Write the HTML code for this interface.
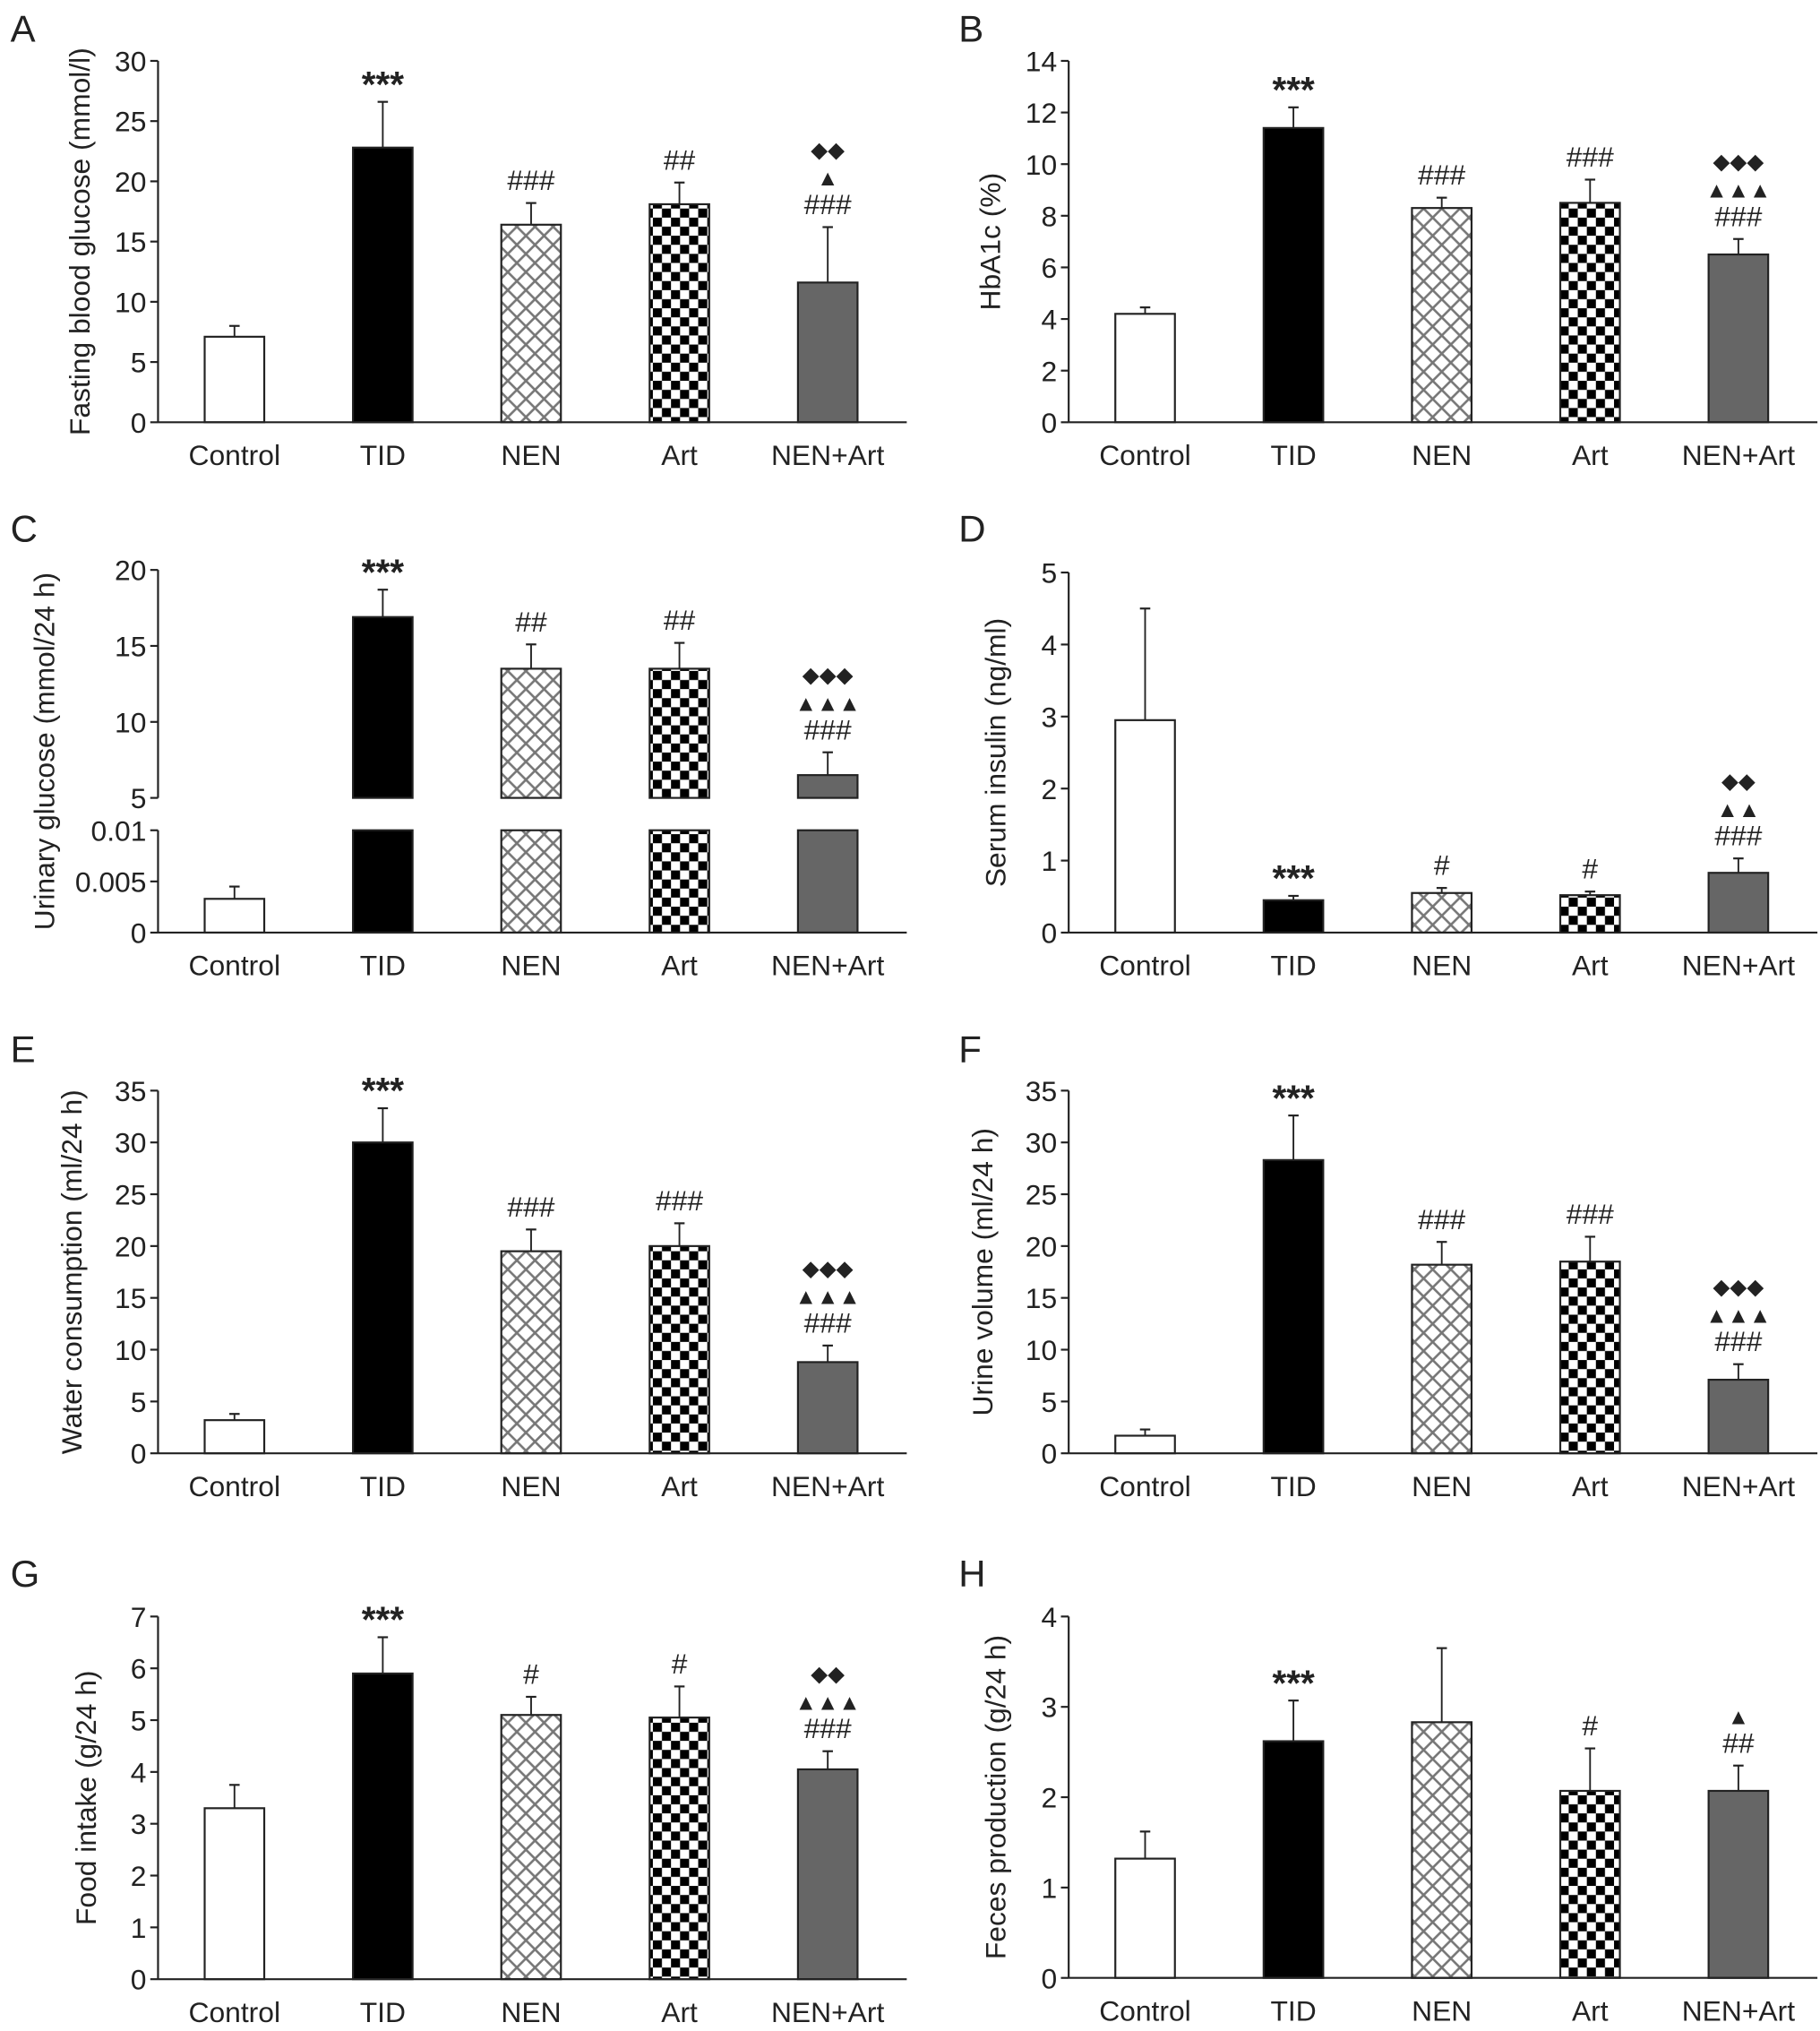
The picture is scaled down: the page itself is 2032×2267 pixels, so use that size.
<!DOCTYPE html>
<html><head><meta charset="utf-8">
<style>
html,body{margin:0;padding:0;background:#fff}
svg{display:block}
text{font-family:"Liberation Sans",Arial,sans-serif;fill:#222}
</style></head>
<body>
<svg id="fig" width="2032" height="2267" viewBox="0 0 1405 1568" preserveAspectRatio="none" xmlns="http://www.w3.org/2000/svg">
<defs>
<pattern id="cross" patternUnits="userSpaceOnUse" width="14" height="14">
<rect width="14" height="14" fill="#fff"/>
<path d="M0,0 L14,14 M14,0 L0,14 M-1,13 L1,15 M13,-1 L15,1" stroke="#777" stroke-width="1.8"/>
</pattern>
<pattern id="checker" patternUnits="userSpaceOnUse" width="14" height="14">
<rect width="14" height="14" fill="#fff"/>
<rect width="7" height="7" fill="#000"/>
<rect x="7" y="7" width="7" height="7" fill="#000"/>
</pattern>
</defs>
</svg>
<script>
const categories = ["Control","TID","NEN","Art","NEN+Art"];
const valsA = [7.1, 22.8, 16.4, 18.1, 11.6];
const errA = [0.9, 3.8, 1.8, 1.8, 4.6];
const valsB = [4.2, 11.4, 8.3, 8.5, 6.5];
const errB = [0.25, 0.8, 0.4, 0.9, 0.6];
const valsCLow = [0.0033, 0.01, 0.01, 0.01, 0.01];
const errCLow = [0.0012, 0, 0, 0, 0];
const valsCHigh = [null, 16.9, 13.5, 13.5, 6.5];
const errCHigh = [0, 1.8, 1.6, 1.7, 1.5];
const valsD = [2.95, 0.45, 0.55, 0.52, 0.83];
const errD = [1.55, 0.06, 0.07, 0.05, 0.2];
const valsE = [3.2, 30.0, 19.5, 20.0, 8.8];
const errE = [0.6, 3.3, 2.1, 2.2, 1.6];
const valsF = [1.7, 28.3, 18.2, 18.5, 7.1];
const errF = [0.6, 4.3, 2.2, 2.4, 1.5];
const valsG = [3.3, 5.9, 5.1, 5.05, 4.05];
const errG = [0.45, 0.7, 0.35, 0.6, 0.35];
const valsH = [1.32, 2.62, 2.83, 2.07, 2.07];
const errH = [0.3, 0.45, 0.82, 0.47, 0.28];
const annA = [[], ["***"], ["###"], ["##"], ["###","▲","◆◆"]];
const annB = [[], ["***"], ["###"], ["###"], ["###","▲▲▲","◆◆◆"]];
const annC = [[], ["***"], ["##"], ["##"], ["###","▲▲▲","◆◆◆"]];
const annD = [[], ["***"], ["#"], ["#"], ["###","▲▲","◆◆"]];
const annE = [[], ["***"], ["###"], ["###"], ["###","▲▲▲","◆◆◆"]];
const annF = annE;
const annG = [[], ["***"], ["#"], ["#"], ["###","▲▲▲","◆◆"]];
const annH = [[], ["***"], [], ["#"], ["##","▲"]];
const ticksA=[0,5,10,15,20,25,30], ticksB=[0,2,4,6,8,10,12,14], ticksD=[0,1,2,3,4,5],
      ticksE=[0,5,10,15,20,25,30,35], ticksG=[0,1,2,3,4,5,6,7], ticksH=[0,1,2,3,4];
const ticksCHigh=[5,10,15,20], ticksCLow=[0,0.005,0.01];

const svg=document.getElementById('fig');
const NS="http://www.w3.org/2000/svg";
const fills=["#fff","#000","url(#cross)","url(#checker)","#666"];
function mk(tag,attrs,parent){const e=document.createElementNS(NS,tag);for(const k in attrs)e.setAttribute(k,attrs[k]);(parent||svg).appendChild(e);return e;}
function txt(s,x,y,size,anchor,parent){const t=mk('text',{x:x,y:y,'font-size':size,'text-anchor':anchor||'middle'},parent);t.textContent=s;return t;}
function annot(s,cx,yy,g){
  const star=s.includes('*');
  const a=txt(s,cx,star?yy+6:yy,s.includes('#')?22:(star?28:17),'middle',g);
  if(star)a.setAttribute('font-weight','700');
  
  
}

function panel(o){
  const g=mk('g',{});
  
  
  const L=txt(o.letter,o.lx,o.ly,29,'start',g);
  
  
  const ax=o.ax, y0=o.y0, yT=o.yT, max=o.ticks[o.ticks.length-1];
  const y=v=>y0-(v/max)*(y0-yT);
  const bx=i=>ax+59+i*114.5;
  const yl=mk('line',{x1:ax,y1:yT,x2:ax,y2:y0,stroke:'#222','stroke-width':1.5},g);
  
  
  o.ticks.forEach(t=>{
    mk('line',{x1:ax-6,y1:y(t),x2:ax,y2:y(t),stroke:'#222','stroke-width':1.5},g);
    const tl=txt(String(t),ax-9,y(t)+8,22,'end',g);
    
    
  });
  o.vals.forEach((v,i)=>{
    const cx=bx(i), top=y(v+o.err[i]);
    const r=mk('rect',{x:cx-23,y:y(v),width:46,height:y0-y(v),fill:fills[i],stroke:'#222','stroke-width':1.5},g);
    
    
    mk('line',{x1:cx,y1:y(v),x2:cx,y2:top,stroke:'#222','stroke-width':1.3},g);
    mk('line',{x1:cx-4,y1:top,x2:cx+4,y2:top,stroke:'#222','stroke-width':1.5},g);
    o.ann[i].forEach((s,k)=>annot(s,cx,top-10-k*22,g));
  });
  const xl=mk('line',{x1:ax,y1:y0,x2:ax+578,y2:y0,stroke:'#222','stroke-width':1.5},g);
  
  
  categories.forEach((c,i)=>{
    const t=txt(c,bx(i),y0+33,22,'middle',g);
    
    
  });
  const yt=txt(o.title,0,0,22,'middle',g);
  yt.setAttribute('transform','translate('+o.tx+','+((y0+yT)/2)+') rotate(-90)');
  
  
}

panel({letter:'A',lx:8,ly:32,ax:122,y0:326,yT:47,ticks:ticksA,vals:valsA,err:errA,ann:annA,title:'Fasting blood glucose (mmol/l)',tx:69});
panel({letter:'B',lx:740,ly:32,ax:825,y0:326,yT:47,ticks:ticksB,vals:valsB,err:errB,ann:annB,title:'HbA1c (%)',tx:772});
panel({letter:'D',lx:740,ly:418,ax:825,y0:720,yT:442,ticks:ticksD,vals:valsD,err:errD,ann:annD,title:'Serum insulin (ng/ml)',tx:776});
panel({letter:'E',lx:8,ly:820,ax:122,y0:1122,yT:842,ticks:ticksE,vals:valsE,err:errE,ann:annE,title:'Water consumption (ml/24 h)',tx:63});
panel({letter:'F',lx:740,ly:820,ax:825,y0:1122,yT:842,ticks:ticksE,vals:valsF,err:errF,ann:annF,title:'Urine volume (ml/24 h)',tx:766});
panel({letter:'G',lx:8,ly:1225,ax:122,y0:1528,yT:1248,ticks:ticksG,vals:valsG,err:errG,ann:annG,title:'Food intake (g/24 h)',tx:74});
panel({letter:'H',lx:740,ly:1225,ax:825,y0:1527,yT:1248,ticks:ticksH,vals:valsH,err:errH,ann:annH,title:'Feces production (g/24 h)',tx:776});

(function(){
  const g=mk('g',{});
  
  
  const L=txt('C',8,418,29,'start',g);
  
  
  const ax=122;
  const yH=v=>616-(v-5)/15*(616-440);
  const yL=v=>720-v/0.01*(720-641);
  const bx=i=>ax+59+i*114.5;
  mk('line',{x1:ax,y1:440,x2:ax,y2:616,stroke:'#222','stroke-width':1.5},g);
  mk('line',{x1:ax,y1:641,x2:ax,y2:720,stroke:'#222','stroke-width':1.5},g);
  ticksCHigh.forEach(t=>{mk('line',{x1:ax-6,y1:yH(t),x2:ax,y2:yH(t),stroke:'#222','stroke-width':1.5},g);
    const tl=txt(String(t),ax-9,yH(t)+8,22,'end',g);
    
    });
  ticksCLow.forEach(t=>{mk('line',{x1:ax-6,y1:yL(t),x2:ax,y2:yL(t),stroke:'#222','stroke-width':1.5},g);
    const tl=txt(String(t),ax-9,yL(t)+8,22,'end',g);
    
    });
  categories.forEach((c,i)=>{
    const cx=bx(i);
    const v=valsCLow[i];
    const r=mk('rect',{x:cx-23,y:yL(v),width:46,height:720-yL(v),fill:fills[i],stroke:'#222','stroke-width':1.5},g);
    
    
    if(errCLow[i]>0){const t=yL(v+errCLow[i]);
      mk('line',{x1:cx,y1:yL(v),x2:cx,y2:t,stroke:'#222','stroke-width':1.3},g);
      mk('line',{x1:cx-4,y1:t,x2:cx+4,y2:t,stroke:'#222','stroke-width':1.5},g);}
    const h=valsCHigh[i];
    if(h!==null){
      const r2=mk('rect',{x:cx-23,y:yH(h),width:46,height:616-yH(h),fill:fills[i],stroke:'#222','stroke-width':1.5},g);
      
      
      const t=yH(h+errCHigh[i]);
      mk('line',{x1:cx,y1:yH(h),x2:cx,y2:t,stroke:'#222','stroke-width':1.3},g);
      mk('line',{x1:cx-4,y1:t,x2:cx+4,y2:t,stroke:'#222','stroke-width':1.5},g);
      annC[i].forEach((s,k)=>annot(s,cx,t-10-k*22,g));
    }
    const tl=txt(c,cx,753,22,'middle',g);
    
    
  });
  const xl=mk('line',{x1:ax,y1:720,x2:ax+578,y2:720,stroke:'#222','stroke-width':1.5},g);
  
  
  const yt=txt('Urinary glucose (mmol/24 h)',0,0,22,'middle',g);
  yt.setAttribute('transform','translate(42,580) rotate(-90)');
  
  
})();
</script>
</body></html>
